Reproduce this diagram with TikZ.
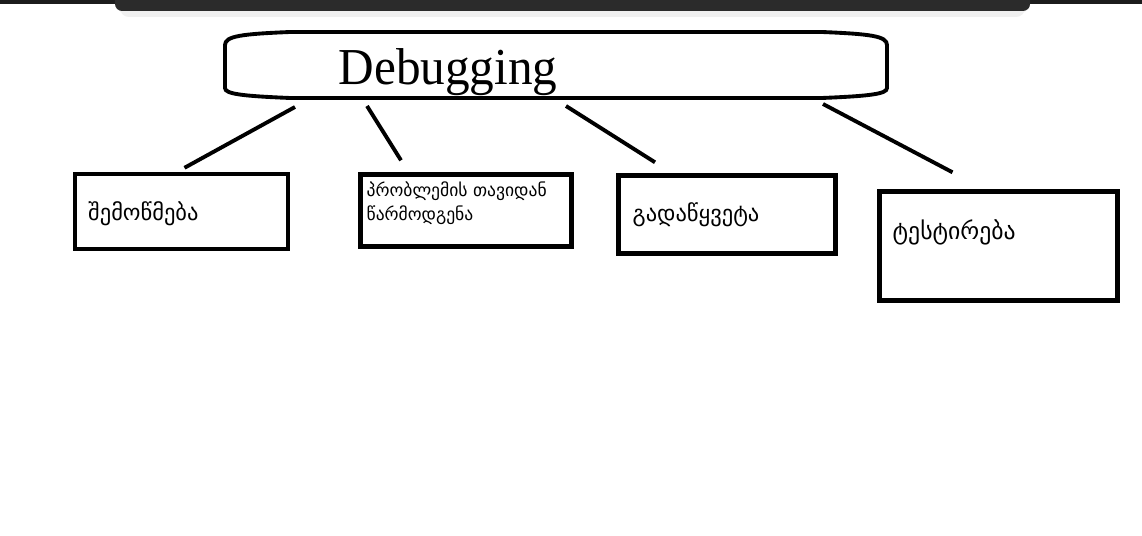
\documentclass[tikz,border=0pt]{standalone}
\usepackage{fontspec}
\setmainfont{Liberation Serif}
\newfontfamily\geofont{DejaVu Sans}
\usetikzlibrary{calc}
\definecolor{barcol}{HTML}{2B2B2B}
\definecolor{edgecol}{HTML}{1C1C1C}

\begin{document}
\begin{tikzpicture}[x=0.02cm,y=-0.02cm,
  box/.style={draw, line width=2.5pt, rectangle, inner sep=0pt},
  outline/.style={line width=2.2pt},
  lbl/.style={inner sep=0pt, font=\geofont\fontsize{12.8}{15}\selectfont, align=left},
  link/.style={line width=2.2pt}]
\useasboundingbox (0,0) rectangle (1142,536);

% --- barra in alto (screenshot)
\fill[black!6, rounded corners=5pt] (120,4) rectangle (1025,17);
\fill[edgecol] (0,-5) rectangle (1142,4);
\fill[barcol, rounded corners=4pt] (115,-12) rectangle (1030,11);

% --- nodo principale: Debugging
\node[minimum width=13.24cm, minimum height=1.32cm, inner sep=0pt] (dbg) at (556,65) {};
\draw[outline, shift={(dbg.center)}] (-266,-33) -- (266,-33)
  .. controls (314,-31) and (331,-29) .. (331,-20) -- (331,23)
  .. controls (331,29) and (314,31) .. (266,33) -- (-266,33)
  .. controls (-314,31) and (-331,29) .. (-331,23) -- (-331,-20)
  .. controls (-331,-29) and (-314,-31) .. (-266,-33) -- cycle;
\node[inner sep=0pt, xscale=0.95, font=\fontsize{29.5}{31}\selectfont] (dbgtext) at (448,72) {Debugging};

% --- quattro rettangoli
\node[box, minimum width=4.26cm, minimum height=1.5cm] (b1) at (181.5,211.5) {};
\node[box, minimum width=4.22cm, minimum height=1.44cm] (b2) at (466,210.5) {};
\node[box, minimum width=4.34cm, minimum height=1.56cm] (b3) at (727,214.5) {};
\node[box, minimum width=4.76cm, minimum height=2.18cm] (b4) at (998.5,246) {};

% --- testi nei rettangoli
\node[lbl, anchor=west] (t1) at ($(b1.west)+(15,2)$) {შემოწმება};
\node[lbl, anchor=north west, font=\geofont\fontsize{10}{13.5}\selectfont] (t2) at ($(b2.north west)+(8,9)$) {პრობლემის თავიდან\\წარმოდგენა};
\node[lbl, anchor=west] (t3) at ($(b3.west)+(16,0)$) {გადაწყვეტა};
\node[lbl, anchor=west, font=\geofont\fontsize{13.5}{15}\selectfont] (t4) at ($(b4.west)+(15,-14)$) {ტესტირება};

% --- collegamenti
\coordinate (d1) at ($(dbg.center)+(-261,42)$);
\coordinate (e1) at ($(b1.north)+(3,-4)$);
\coordinate (d2) at ($(dbg.center)+(-189,41)$);
\coordinate (e2) at ($(b2.north)+(-65,-12)$);
\coordinate (d3) at ($(dbg.center)+(10,41)$);
\coordinate (e3) at ($(b3.north)+(-72,-11)$);
\coordinate (d4) at ($(dbg.center)+(267,39)$);
\coordinate (e4) at ($(b4.north)+(-46,-17)$);
\foreach \i in {1,...,4}
  \draw[link] (d\i) -- (e\i);
\end{tikzpicture}
\end{document}
